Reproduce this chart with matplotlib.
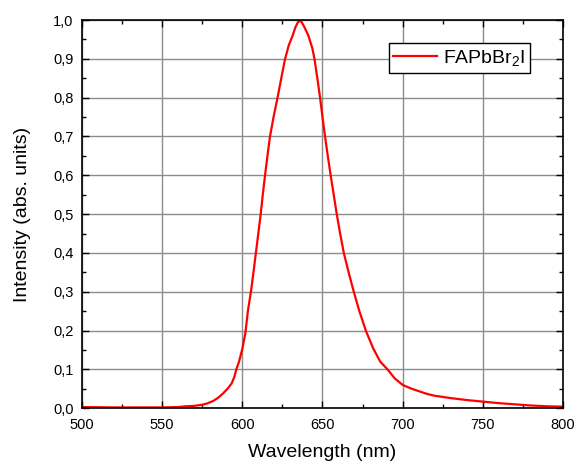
import matplotlib
matplotlib.use("Agg")
import matplotlib.pyplot as plt
from matplotlib.ticker import MultipleLocator, FuncFormatter

# spectrum
wavelength = [500, 520, 540, 550, 560, 565, 570, 575, 578, 582, 585, 588, 591,
              593.4, 595, 596.3, 598, 600, 602, 603.5, 605.4, 607, 608.5, 610,
              611.5, 612.8, 614.2, 615.7, 617.3, 619.5, 622, 624.3, 626.7,
              629, 631.4, 633, 634.5, 635.6, 637, 638.7, 641.2, 643.7, 645,
              646.8, 648.5, 650, 651.6, 653.3, 655.1, 657, 658.9, 661, 663.3,
              666.3, 669.5, 673, 677, 681.5, 686, 690.5, 695, 700, 705, 710,
              715, 720, 730, 740, 750, 760, 770, 780, 790, 800]
intensity = [0.003, 0.002, 0.002, 0.002, 0.003, 0.005, 0.006, 0.009, 0.012,
             0.019, 0.027, 0.038, 0.051, 0.064, 0.08, 0.10, 0.12, 0.152,
             0.195, 0.25, 0.30, 0.35, 0.40, 0.45, 0.50, 0.55, 0.60, 0.65,
             0.70, 0.75, 0.80, 0.85, 0.90, 0.935, 0.96, 0.98, 0.993, 0.998,
             0.995, 0.982, 0.96, 0.927, 0.90, 0.85, 0.80, 0.75, 0.70, 0.65,
             0.60, 0.55, 0.50, 0.45, 0.40, 0.35, 0.30, 0.25, 0.20, 0.155,
             0.12, 0.10, 0.077, 0.06, 0.051, 0.044, 0.037, 0.032, 0.026,
             0.021, 0.017, 0.013, 0.010, 0.007, 0.005, 0.004]
label = "FAPbBr$_2$I"

plt.rcParams['font.family'] = ['Liberation Sans', 'DejaVu Sans']
plt.rcParams['mathtext.fontset'] = 'custom'
plt.rcParams['mathtext.rm'] = 'Liberation Sans'
plt.rcParams['mathtext.it'] = 'Liberation Sans'

fig = plt.figure(figsize=(5.8, 4.66), dpi=100)
ax = fig.add_axes([0.141, 0.124, 0.830, 0.833])

ax.plot(wavelength, intensity, color="#ff0000", lw=1.6, label=label)

ax.set_xlim(500, 800)
ax.set_ylim(0, 1.0)
ax.xaxis.set_major_locator(MultipleLocator(50))
ax.xaxis.set_minor_locator(MultipleLocator(25))
ax.yaxis.set_major_locator(MultipleLocator(0.1))
ax.yaxis.set_minor_locator(MultipleLocator(0.05))
ax.yaxis.set_major_formatter(FuncFormatter(lambda v, p: f"{v:.1f}".replace(".", ",")))

ax.grid(True, which="major", color="#8c8c8c", lw=1.0)
ax.set_axisbelow(True)
ax.tick_params(which="both", direction="in", top=True, right=True,
               labelsize=10.5, width=1.0, color="black")
ax.tick_params(which="major", length=5)
ax.tick_params(which="minor", length=3)
ax.tick_params(axis="x", which="major", pad=7)
ax.tick_params(axis="y", which="major", pad=6)
for s in ax.spines.values():
    s.set_linewidth(1.2)

ax.set_xlabel("Wavelength (nm)", fontsize=14, labelpad=9)
ax.set_ylabel("Intensity (abs. units)", fontsize=14, labelpad=16)

leg = ax.legend(loc="upper right", bbox_to_anchor=(0.931, 0.941),
                borderaxespad=0, fontsize=14, fancybox=False,
                edgecolor="black", framealpha=1, handlelength=2.25,
                handletextpad=0.3, borderpad=0.25)
leg.get_frame().set_linewidth(1.0)

fig.savefig("out.png", dpi=100)
